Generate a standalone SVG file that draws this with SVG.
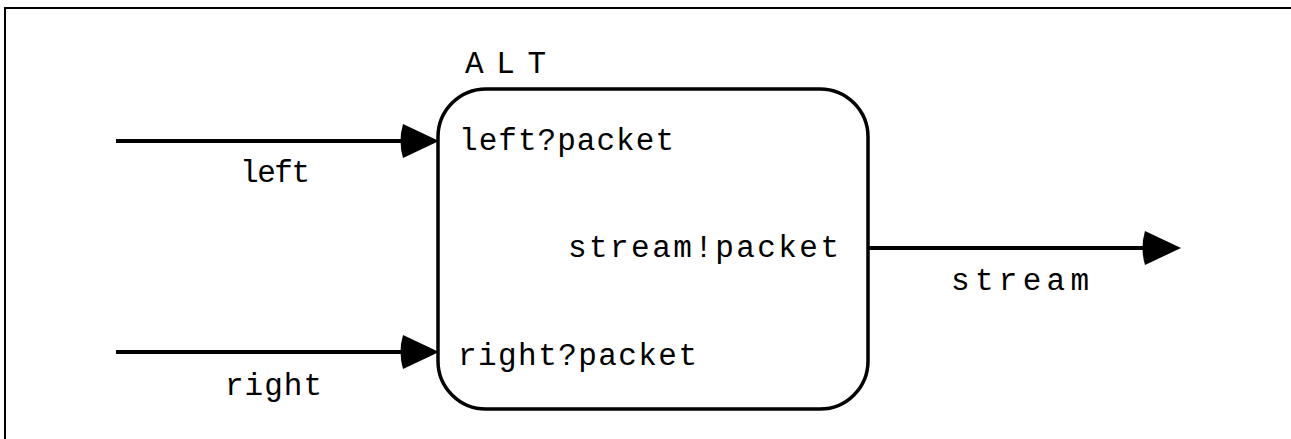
<svg xmlns="http://www.w3.org/2000/svg" width="1291" height="439" viewBox="0 0 1291 439">
  <style>
    .frame { fill: none; stroke: #000; stroke-width: 2; }
    .proc { fill: #fff; stroke: #000; stroke-width: 3.5; }
    .wire { fill: none; stroke: #000; stroke-width: 4; }
    .head { fill: #000; stroke: none; }
    text { font-family: "Courier New", "Nimbus Mono PS", FreeMono, "Liberation Mono", monospace; font-size: 31px; fill: #000; }
  </style>
  <defs>
    <!-- filled arrowhead, tip at origin pointing right -->
    <path id="head" d="M0,0 L-36,-17 Q-41,0 -36,17 Z"/>
  </defs>
  <rect width="1291" height="439" fill="#fff"/>
  <rect class="frame" x="5" y="8" width="1290" height="440"/>

  <g id="connectors">
    <g id="c-left">
      <line class="wire" x1="116" y1="141" x2="410" y2="141"/>
      <use href="#head" class="head" x="439" y="141"/>
      <text x="240" y="182" textLength="70" lengthAdjust="spacing">left</text>
    </g>
    <g id="c-right">
      <line class="wire" x1="116" y1="352" x2="410" y2="352"/>
      <use href="#head" class="head" x="439" y="352"/>
      <text x="225" y="395" textLength="97" lengthAdjust="spacing">right</text>
    </g>
    <g id="c-stream">
      <line class="wire" x1="868" y1="248" x2="1150" y2="248"/>
      <use href="#head" class="head" x="1181" y="248"/>
      <text x="951" y="290" textLength="138" lengthAdjust="spacing">stream</text>
    </g>
  </g>

  <g id="alt">
    <rect class="proc" x="438" y="89" width="430" height="320" rx="48" ry="48"/>
    <text x="465" y="73" textLength="81" lengthAdjust="spacing">ALT</text>
    <text x="459" y="150" textLength="215" lengthAdjust="spacing">left?packet</text>
    <text x="568" y="257" textLength="271" lengthAdjust="spacing">stream!packet</text>
    <text x="458" y="365" textLength="239" lengthAdjust="spacing">right?packet</text>
  </g>
</svg>
